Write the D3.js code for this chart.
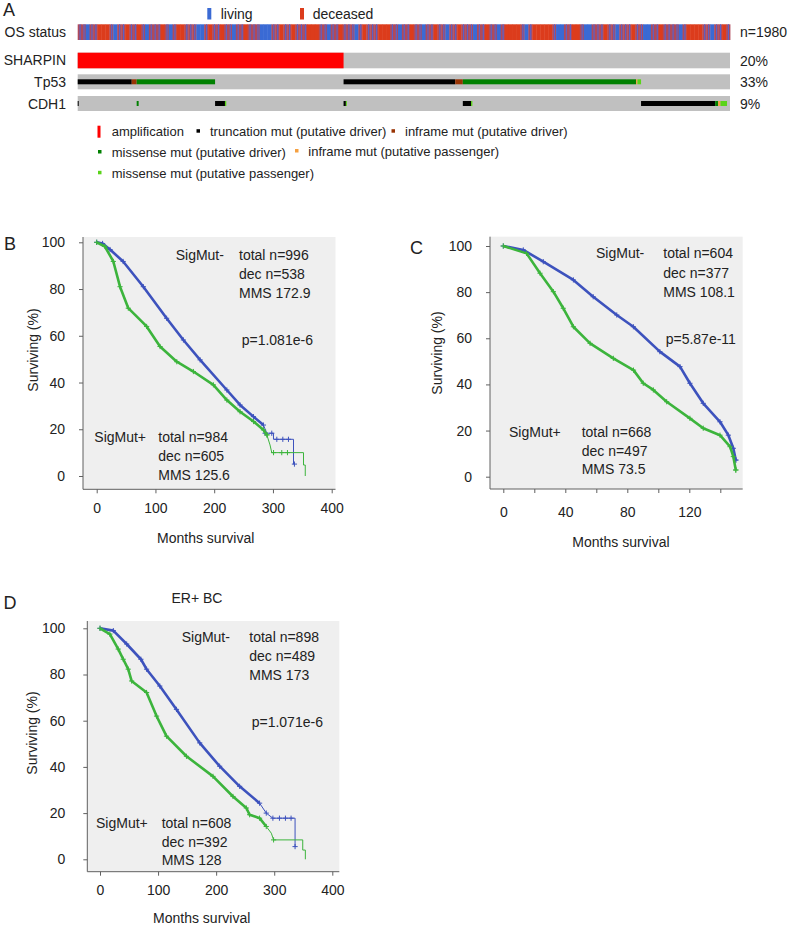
<!DOCTYPE html>
<html><head><meta charset="utf-8">
<script src="https://cdn.jsdelivr.net/npm/d3@7"></script>
<style>
body{margin:0;background:#fff}
text{font-family:"Liberation Sans",Arial,sans-serif;fill:#222}
</style></head>
<body><svg id="c" width="790" height="926"></svg>
<script>
// ---------------- DATA ----------------
// OS status, one character per block of samples: r = deceased, b = living, m = mixed
const osStatus =
  "mmbmmrrrmbmmrmmrmbmmmrmbmrrmmmbbmrmmrmmbmmrmmmbbbmmrmmrmmmrrrmmbmmrmmmbmrmmmrrrmmbm" +
  "mrmmbmmrmmbmmrmmmbmmrmmbmrrrrmbmrrrrrmbbmmrrmbbmmmrmmbmmmrmmbbmmrmmmmbmrrrrmmbmmrm";
const nSamples = 1980;
const geneNames = ["SHARPIN", "Tp53", "CDH1"];
const genePct = ["20%", "33%", "9%"];
// alterations: [startSample, endSample, type]
const sharpinAlt = [[0, 807, "amp"]];
const tp53Alt = [
  [0, 164, "trunc"], [164, 179, "infD"], [179, 417, "misD"],
  [807, 1146, "trunc"], [1146, 1169, "infD"], [1169, 1695, "misD"],
  [1695, 1699, "infP"], [1699, 1710, "misP"]
];
const cdh1Alt = [
  [0, 3, "trunc"], [179, 185, "misD"], [417, 447, "trunc"], [447, 451, "misP"],
  [807, 814, "trunc"], [814, 817, "misP"], [1169, 1194, "trunc"], [1194, 1198, "misP"],
  [1710, 1935, "trunc"], [1935, 1944, "misD"], [1944, 1951, "infP"], [1951, 1971, "misP"]
];
const altTypes = ["amp", "trunc", "infD", "misD", "infP", "misP"];
const altLabels = ["amplification", "truncation mut (putative driver)", "inframe mut (putative driver)",
  "missense mut (putative driver)", "inframe mut (putative passenger)", "missense mut (putative passenger)"];
const statusLabels = ["living", "deceased"];

// Survival curves [months, surviving %]
const bNeg = [[0,100],[10,99.5],[22.7,96.9],[45,91.8],[79.4,81],[119,67.5],[147.6,58.2],[176,49.7],[221.5,36.8],[244,30.4],[266.8,25.4],[283.8,21.8],[289.6,18.3],[300.9,18.3],[300.9,15.7],[335,15.7],[335,5.1],[337,5.1]];
const bPos = [[0,100],[14,98.2],[28.3,91.8],[39.7,81],[53.8,71.8],[85,64],[107.8,55.4],[136.3,48.9],[164.6,44.7],[198.6,39],[221.5,32.5],[244,27.5],[267,23.3],[284,19.7],[289.6,17.6],[295,13.3],[298,10],[352,10],[352,4.7],[355,4.7],[355,0]];
const bNegCens = [[286.7,18.3],[298,18.3],[306.6,15.7],[316.8,15.7],[326.4,15.7],[336.6,5.1]];
const bPosCens = [[290,17.6],[301,10],[315,10],[324.7,10]];
const cNeg = [[0,100],[12.9,98.3],[25.8,93.2],[45.2,85.3],[58,78],[73.2,70.1],[83.9,65],[101,54.2],[114,47.7],[120.4,40.5],[129,31.8],[139.8,23.8],[145.2,18],[148.4,12.3],[150,7.2]];
const cPos = [[0,100],[15,96.8],[23.7,88.2],[32.3,80.2],[38.7,73],[45.2,65],[56,57.8],[71,51.3],[84,46.2],[90.3,40.5],[96.8,37.6],[105.4,32.5],[120.4,25.3],[129,21],[139.8,18],[146.3,13],[148.4,8.7],[150,2.9]];
const cNegCens = [[150,7.2]];
const cPosCens = [[150,2.9]];
const dNeg = [[0,100],[22.9,99],[45.9,93.2],[70.4,86.6],[80.2,82.3],[103,75],[131.7,64.9],[171.7,50.4],[206,40.3],[240.4,31.6],[274.8,24.3],[286.3,20],[297.6,17.8],[335.9,17.8],[335.9,5.5],[337,5.5]];
const dPos = [[0,100],[17,97.5],[31.4,91],[40,86.6],[48.6,82.3],[54.4,77.2],[80.2,72.2],[97.4,62],[114.5,53.3],[148.9,44.6],[194.6,35.9],[229,27.2],[252,22.2],[257.6,19.3],[274.8,17.8],[286.3,14.2],[295,11.3],[298.9,8.4],[349.1,8.4],[349.1,4],[353.6,4],[353.6,0]];
const dNegCens = [[286.3,20],[297.7,17.8],[309,17.8],[319.3,17.8],[329,17.8],[335.9,5.5]];
const dPosCens = [[298.9,8.4]];
// last time of the densely censored part of each curve
const denseEnd = {bNeg: 285, bPos: 290, cNeg: 150, cPos: 150, dNeg: 286, dPos: 292};
const bTicksX = [0, 100, 200, 300, 400];
const cTicksX = [0, 20, 40, 60, 80, 100, 120, 140];
const cTickLabelsX = ["0", "", "40", "", "80", "", "120", ""];
const ticksY = [0, 20, 40, 60, 80, 100];
const bStats = {neg: ["total n=996", "dec n=538", "MMS 172.9"], pos: ["total n=984", "dec n=605", "MMS 125.6"], p: "p=1.081e-6"};
const cStats = {neg: ["total n=604", "dec n=377", "MMS 108.1"], pos: ["total n=668", "dec n=497", "MMS 73.5"], p: "p=5.87e-11"};
const dStats = {neg: ["total n=898", "dec n=489", "MMS 173"], pos: ["total n=608", "dec n=392", "MMS 128"], p: "p=1.071e-6"};

// ---------------- STYLE ----------------
const altColor = {amp: "#ff0000", trunc: "#000000", infD: "#993404", misD: "#008000", infP: "#f5a040", misP: "#5ad41a"};
const osColor = {r: "#dc3c1c", b: "#3a6ad4", m: "#b04a5a"};
const blueC = "#3d52bd", greenC = "#3cb43c";

const svg = d3.select("#c");
const FONT = 14;

function txt(x, y, s, size, anchor) {
  return svg.append("text").attr("x", x).attr("y", y).attr("font-size", size || FONT)
    .attr("text-anchor", anchor || "start").text(s);
}

// ---------------- PANEL A ----------------
txt(3, 16, "A", 18);
const oX0 = 77.7, oX1 = 730;
const sx = d3.scaleLinear().domain([0, nSamples]).range([oX0, oX1]);
// status legend
svg.append("rect").attr("x", 207.3).attr("y", 8).attr("width", 4).attr("height", 11.5).attr("fill", osColor.b);
txt(220.7, 18.5, statusLabels[0]);
svg.append("rect").attr("x", 300).attr("y", 8).attr("width", 4).attr("height", 11.5).attr("fill", osColor.r);
txt(312.7, 18.5, statusLabels[1]);

txt(66, 36.5, "OS status", FONT, "end");
const bx = d3.scaleBand().domain(d3.range(osStatus.length)).range([oX0, oX1]);
const osG = svg.append("g");
osG.selectAll("rect.c").data(osStatus.split("")).join("rect").attr("class", "c")
  .attr("x", (d, i) => bx(i)).attr("y", 24.3).attr("width", bx.bandwidth() + 0.4).attr("height", 15.7)
  .attr("fill", d => osColor[d]);
// fine living stripes inside mixed blocks
osG.selectAll("rect.s").data(osStatus.split("").map((d, i) => [d, i]).filter(d => d[0] === "m")).join("rect").attr("class", "s")
  .attr("x", d => bx(d[1]) + bx.bandwidth() * 0.45).attr("y", 24.3).attr("width", 1.2).attr("height", 15.7)
  .attr("fill", "#5a62c8");
txt(740, 36.5, "n=" + nSamples);

const rowY = [52.7, 74.3, 96];
const rowH = [15.6, 15, 15];
const alts = [sharpinAlt, tp53Alt, cdh1Alt];
geneNames.forEach((g, k) => {
  txt(66, rowY[k] + 12.5, g, FONT, "end");
  svg.append("rect").attr("x", oX0).attr("y", rowY[k]).attr("width", oX1 - oX0).attr("height", rowH[k]).attr("fill", "#c0c0c0");
  svg.append("g").selectAll("rect").data(alts[k]).join("rect")
    .attr("x", d => sx(d[0])).attr("width", d => Math.max(1, sx(d[1]) - sx(d[0])))
    .attr("y", d => d[2] === "amp" ? rowY[k] : rowY[k] + 5)
    .attr("height", d => d[2] === "amp" ? rowH[k] : 5)
    .attr("fill", d => altColor[d[2]]);
  txt(740, rowY[k] + 13, genePct[k]);
});

// mutation legend
const legPos = [[97.5, 131.7, 111.7], [196.5, 131.7, 210], [391.5, 131.7, 405], [98, 152.5, 111.7], [295, 151.5, 308.3], [98, 173.3, 111.7]];
altTypes.forEach((t, i) => {
  const [mx, my, tx] = legPos[i];
  if (t === "amp") svg.append("rect").attr("x", mx).attr("y", my - 6).attr("width", 3).attr("height", 12).attr("fill", altColor[t]);
  else svg.append("rect").attr("x", mx).attr("y", my - 2.5).attr("width", 3.5).attr("height", 3.5).attr("fill", altColor[t]);
  txt(tx, my + 4.5, altLabels[i], 13);
});

// ---------------- KM PANELS ----------------
function kmPanel(cfg) {
  const {bg, xr, yr, xdom, neg, pos, negC, posC, dN, dP, ticksX, tickLabX, ypad, xpad, stats, ann, letter, xTitle, yTitle} = cfg;
  svg.append("rect").attr("x", bg[0]).attr("y", bg[1]).attr("width", bg[2] - bg[0]).attr("height", bg[3] - bg[1]).attr("fill", "#efefef");
  const x = d3.scaleLinear().domain(xdom).range(xr);
  const y = d3.scaleLinear().domain([0, 100]).range(yr);
  const ay = svg.append("g").attr("transform", `translate(${bg[0]},0)`)
    .call(d3.axisLeft(y).tickValues(ticksY).tickSize(4).tickPadding(ypad).tickSizeOuter(0));
  const ax = svg.append("g").attr("transform", `translate(0,${bg[3]})`)
    .call(d3.axisBottom(x).tickValues(ticksX).tickSize(4).tickPadding(xpad).tickSizeOuter(0)
      .tickFormat((d, i) => tickLabX ? tickLabX[i] : d));
  [ay, ax].forEach(a => {
    a.select(".domain").remove();
    a.selectAll("line").attr("stroke", "#606060");
    a.selectAll("text").attr("font-size", FONT).attr("fill", "#222").attr("font-family", '"Liberation Sans",Arial,sans-serif');
  });
  svg.append("line").attr("x1", bg[0]).attr("x2", bg[0]).attr("y1", bg[1]).attr("y2", bg[3]).attr("stroke", "#606060");
  svg.append("line").attr("x1", bg[0]).attr("x2", bg[2]).attr("y1", bg[3]).attr("y2", bg[3]).attr("stroke", "#606060");
  const line = d3.line().x(d => x(d[0])).y(d => y(d[1]));
  const cross = {draw(ctx) { const r = 2.6; ctx.moveTo(-r, 0); ctx.lineTo(r, 0); ctx.moveTo(0, -r); ctx.lineTo(0, r); }};
  [[neg, dN, negC, blueC], [pos, dP, posC, greenC]].forEach(([pts, de, cens, col]) => {
    svg.append("path").attr("d", line(pts)).attr("fill", "none").attr("stroke", col).attr("stroke-width", 1);
    const dense = pts.filter(p => p[0] <= de);
    svg.append("path").attr("d", line(dense)).attr("fill", "none").attr("stroke", col).attr("stroke-width", 2.6).attr("stroke-linejoin", "round");
    svg.append("g").selectAll("path").data(dense.concat(cens)).join("path")
      .attr("transform", d => `translate(${x(d[0])},${y(d[1])})`)
      .attr("d", d3.symbol().type(cross).size(1))
      .attr("fill", "none").attr("stroke", col).attr("stroke-width", 1);
  });
  txt(ann.negLab[0], ann.negLab[1], "SigMut-");
  stats.neg.forEach((s, i) => txt(ann.neg[0], ann.neg[1] + i * ann.dy, s));
  txt(ann.p[0], ann.p[1], stats.p);
  txt(ann.posLab[0], ann.posLab[1], "SigMut+");
  stats.pos.forEach((s, i) => txt(ann.pos[0], ann.pos[1] + i * ann.dy2, s));
  txt(letter[1], letter[2], letter[0], 18);
  txt(xTitle[0], xTitle[1], "Months survival", FONT, "middle");
  svg.append("text").attr("transform", `translate(${yTitle[0]},${yTitle[1]}) rotate(-90)`)
    .attr("text-anchor", "middle").attr("font-size", FONT).text("Surviving (%)");
}

kmPanel({
  bg: [83, 237, 335.5, 489.3], xr: [96.7, 331.7], yr: [476, 242.3], xdom: [0, 400],
  neg: bNeg, pos: bPos, negC: bNegCens, posC: bPosCens, dN: denseEnd.bNeg, dP: denseEnd.bPos,
  ticksX: bTicksX, ypad: 14, xpad: 10, stats: bStats,
  ann: {negLab: [175.7, 260], neg: [239, 260], dy: 19.2, p: [241.7, 345], posLab: [94.3, 442], pos: [158.3, 442], dy2: 19},
  letter: ["B", 4, 249.5], xTitle: [205.7, 543], yTitle: [38, 350]
});
kmPanel({
  bg: [490, 236.7, 742.7, 489], xr: [503.3, 720.3], yr: [476.7, 246], xdom: [0, 140],
  neg: cNeg, pos: cPos, negC: cNegCens, posC: cPosCens, dN: denseEnd.cNeg, dP: denseEnd.cPos,
  ticksX: cTicksX, tickLabX: cTickLabelsX, ypad: 14, xpad: 14, stats: cStats,
  ann: {negLab: [596, 258.3], neg: [663.3, 258.3], dy: 19.2, p: [665.7, 344.3], posLab: [509, 436.7], pos: [581.7, 436.7], dy2: 18.8},
  letter: ["C", 410, 254], xTitle: [621, 546.7], yTitle: [442, 353]
});
txt(197, 602.7, "ER+ BC", FONT, "middle");
kmPanel({
  bg: [87.3, 621, 339.3, 871.7], xr: [100, 332.3], yr: [859.3, 628.3], xdom: [0, 400],
  neg: dNeg, pos: dPos, negC: dNegCens, posC: dPosCens, dN: denseEnd.dNeg, dP: denseEnd.dPos,
  ticksX: bTicksX, ypad: 18, xpad: 9, stats: dStats,
  ann: {negLab: [181.7, 642.3], neg: [249.3, 642.3], dy: 18.8, p: [251.7, 726.7], posLab: [96, 828.3], pos: [161.7, 828.3], dy2: 18.5},
  letter: ["D", 3.5, 609], xTitle: [201.7, 923.3], yTitle: [36.5, 733]
});
</script>
</body></html>
